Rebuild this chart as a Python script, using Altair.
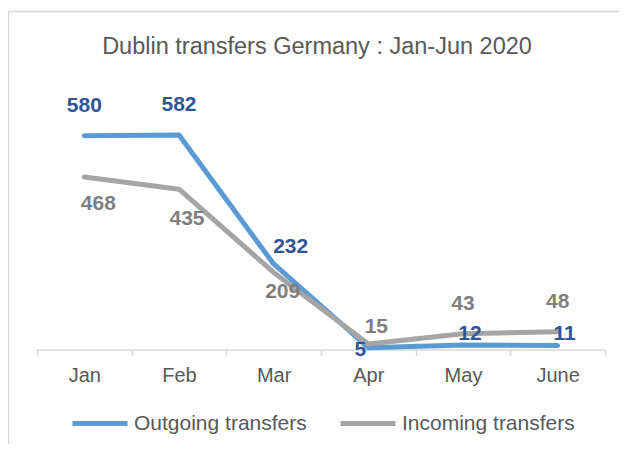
import json
import altair as alt
import pandas as pd

# ---- data ----
months = ["Jan", "Feb", "Mar", "Apr", "May", "June"]
outgoing = [580, 582, 232, 5, 12, 11]
incoming = [468, 435, 209, 15, 43, 48]
series_names = ["Outgoing transfers", "Incoming transfers"]
title_text = "Dublin transfers Germany : Jan-Jun 2020"

rows = []
for m, o, i in zip(months, outgoing, incoming):
    rows.append({"month": m, "series": series_names[0], "value": o})
    rows.append({"month": m, "series": series_names[1], "value": i})
df = pd.DataFrame(rows)

FONT = "Liberation Sans"
TXT = "#595959"
LINE_COLORS = ["#5B9BD5", "#A5A5A5"]
LABEL_COLORS = {series_names[0]: "#2F5597", series_names[1]: "#7F7F7F"}

x = alt.X(
    "month:N",
    sort=months,
    bandPosition=0.5,
    scale=alt.Scale(type="band", paddingInner=0, paddingOuter=0),
    axis=alt.Axis(
        title=None,
        labelAngle=0,
        labelFont=FONT,
        labelFontSize=20,
        labelColor=TXT,
        labelPadding=10,
        domainColor="#D9D9D9",
        domainWidth=1.5,
        tickColor="#D9D9D9",
        tickWidth=1.5,
        tickSize=6,
        tickBand="extent",
        grid=False,
    ),
)
y = alt.Y("value:Q", scale=alt.Scale(domain=[0, 700]), axis=None)
color = alt.Color(
    "series:N",
    scale=alt.Scale(domain=series_names, range=LINE_COLORS),
    legend=alt.Legend(
        title=None,
        orient="none",
        legendX=33,
        legendY=302,
        direction="horizontal",
        symbolType="stroke",
        symbolSize=3025,
        symbolStrokeWidth=5,
        labelFont=FONT,
        labelFontSize=21,
        labelColor=TXT,
        labelOffset=4,
        labelLimit=400,
        columnPadding=23,
        padding=0,
    ),
)

base = alt.Chart(df)


def line_for(name):
    return (
        base.transform_filter(alt.datum.series == name)
        .mark_line(strokeWidth=5, strokeCap="round", strokeJoin="round")
        .encode(x=x, y=y, color=color)
    )


# label placement (style, not data): series, months, dx, dy
label_spots = [
    (series_names[0], ["Jan", "Feb"], 0, -30),
    (series_names[0], ["Mar"], 17, -17),
    (series_names[0], ["Apr"], -8, 2),
    (series_names[0], ["May", "June"], 7, -11),
    (series_names[1], ["Jan"], 14, 27),
    (series_names[1], ["Feb"], 8, 30),
    (series_names[1], ["Mar"], 9, 20),
    (series_names[1], ["Apr"], 8, -17),
    (series_names[1], ["May", "June"], 0, -30),
]

label_layers = []
for s, ms, dx, dy in label_spots:
    expr = f"datum.series == '{s}' && indexof({json.dumps(ms)}, datum.month) >= 0"
    label_layers.append(
        base.transform_filter(expr)
        .mark_text(
            dx=dx,
            dy=dy,
            font=FONT,
            fontSize=21,
            fontWeight="bold",
            color=LABEL_COLORS[s],
            align="center",
            baseline="middle",
        )
        .encode(x=x, y=y, text="value:Q")
    )

frame_data = alt.Data(values=[{"k": 1}])
frame_top = alt.Chart(frame_data).mark_rule(color="#D9D9D9", strokeWidth=1.5).encode(
    x=alt.value(-29), x2=alt.value(600), y=alt.value(-80)
)
frame_left = alt.Chart(frame_data).mark_rule(color="#D9D9D9", strokeWidth=1.5).encode(
    x=alt.value(-28.5), y=alt.value(-80), y2=alt.value(360)
)

chart = (
    alt.layer(frame_top, frame_left, line_for(series_names[0]), line_for(series_names[1]), *label_layers)
    .properties(
        width=568,
        height=258,
        title=alt.TitleParams(
            title_text,
            font=FONT,
            fontSize=23.5,
            fontWeight="normal",
            color=TXT,
            anchor="middle",
            frame="group",
            offset=0,
            dy=48,
            dx=-4,
        ),
        autosize=alt.AutoSizeParams(type="none"),
        padding={"left": 29, "top": 83.5, "right": 14, "bottom": 94.5},
    )
    .configure_view(stroke=None)
)

chart.save("out.html", embed_options={"renderer": "svg", "actions": False})
